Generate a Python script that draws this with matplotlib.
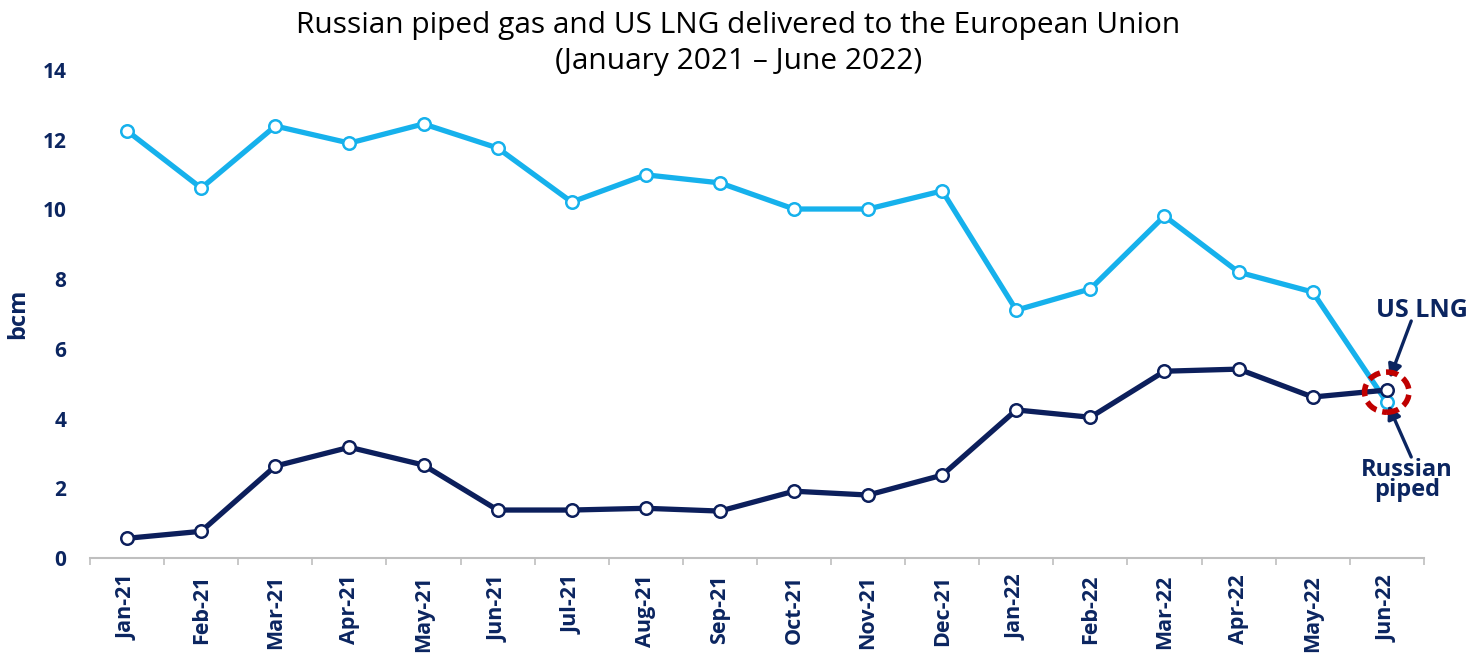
import matplotlib
matplotlib.use("Agg")
import matplotlib.pyplot as plt
from matplotlib.patches import Ellipse
import numpy as np

months = ["Jan-21", "Feb-21", "Mar-21", "Apr-21", "May-21", "Jun-21", "Jul-21", "Aug-21", "Sep-21",
          "Oct-21", "Nov-21", "Dec-21", "Jan-22", "Feb-22", "Mar-22", "Apr-22", "May-22", "Jun-22"]
russian_piped = [12.25, 10.61, 12.39, 11.90, 12.45, 11.76, 10.21, 10.99, 10.76,
                 10.01, 10.01, 10.53, 7.11, 7.72, 9.81, 8.20, 7.63, 4.47]
us_lng = [0.57, 0.77, 2.64, 3.18, 2.67, 1.38, 1.38, 1.43, 1.35,
          1.92, 1.81, 2.38, 4.25, 4.04, 5.36, 5.42, 4.62, 4.82]
yticks = [0, 2, 4, 6, 8, 10, 12, 14]

plt.rcParams['font.family'] = ['Open Sans', 'DejaVu Sans']
navy = "#0B2560"
light = "#16B1EC"
dark = "#0C1F5C"

fig = plt.figure(figsize=(14.77, 6.59), dpi=100)
ax = fig.add_axes([0.061, 0.153, 0.903, 0.741])
x = np.arange(len(months))

ax.plot(x, russian_piped, color=light, lw=3.8, marker="o", ms=9, mfc="white",
        mec=light, mew=1.8, zorder=3, solid_joinstyle="round")
ax.plot(x, us_lng, color=dark, lw=3.8, marker="o", ms=9, mfc="white",
        mec=dark, mew=1.8, zorder=4, solid_joinstyle="round")

ax.set_xlim(-0.5, len(months) - 0.5)
ax.set_ylim(0, 14)
ax.set_yticks(yticks)
ax.set_yticklabels([str(v) for v in yticks], fontsize=15, fontweight="bold", color=navy)
ax.tick_params(axis="y", length=0, pad=17)
ax.set_xticks(x)
ax.set_xticklabels(months, rotation=90, fontsize=15.5, fontweight="bold", color=navy)
ax.set_xticks(np.arange(-0.5, len(months), 1.0), minor=True)
ax.tick_params(axis="x", which="major", length=0, pad=12)
ax.tick_params(axis="x", which="minor", length=5, color="#BFBFBF", width=1.2)
for s in ["top", "right", "left"]:
    ax.spines[s].set_visible(False)
ax.spines["bottom"].set_color("#BFBFBF")
ax.spines["bottom"].set_linewidth(1.5)
ax.set_ylabel("bcm", fontsize=17, fontweight="bold", color=navy, labelpad=9)

fig.text(0.5, 0.962, "Russian piped gas and US LNG delivered to the European Union",
         ha="center", va="center", fontsize=21.5, color="black")
fig.text(0.5, 0.906, "(January 2021 \u2013 June 2022)", ha="center", va="center",
         fontsize=21.5, color="black")

# highlight circle at Jun-22
last = len(months) - 1
ax.add_patch(Ellipse((last, 4.76), 0.6, 1.15, fill=False, ec="#C00000", lw=4,
                     ls=(0, (2.2, 1.1)), zorder=5, clip_on=False))

ax.text(last + 0.47, 7.11, "US LNG", fontsize=18, fontweight="bold", color=navy,
        ha="center", va="center", clip_on=False)
ax.text(last + 0.27, 2.25, "Russian\npiped", fontsize=17, fontweight="bold", color=navy,
        ha="center", va="center", linespacing=0.78, clip_on=False)
arrow = dict(arrowstyle="-|>,head_length=0.8,head_width=0.4", color=navy, lw=2.4,
             shrinkA=0, shrinkB=0)
ax.annotate("", xy=(last + 0.04, 5.16), xytext=(last + 0.33, 6.8),
            annotation_clip=False, arrowprops=arrow)
ax.annotate("", xy=(last + 0.02, 4.39), xytext=(last + 0.33, 2.9),
            annotation_clip=False, arrowprops=arrow)

fig.savefig("out.png", dpi=100, facecolor="white")
